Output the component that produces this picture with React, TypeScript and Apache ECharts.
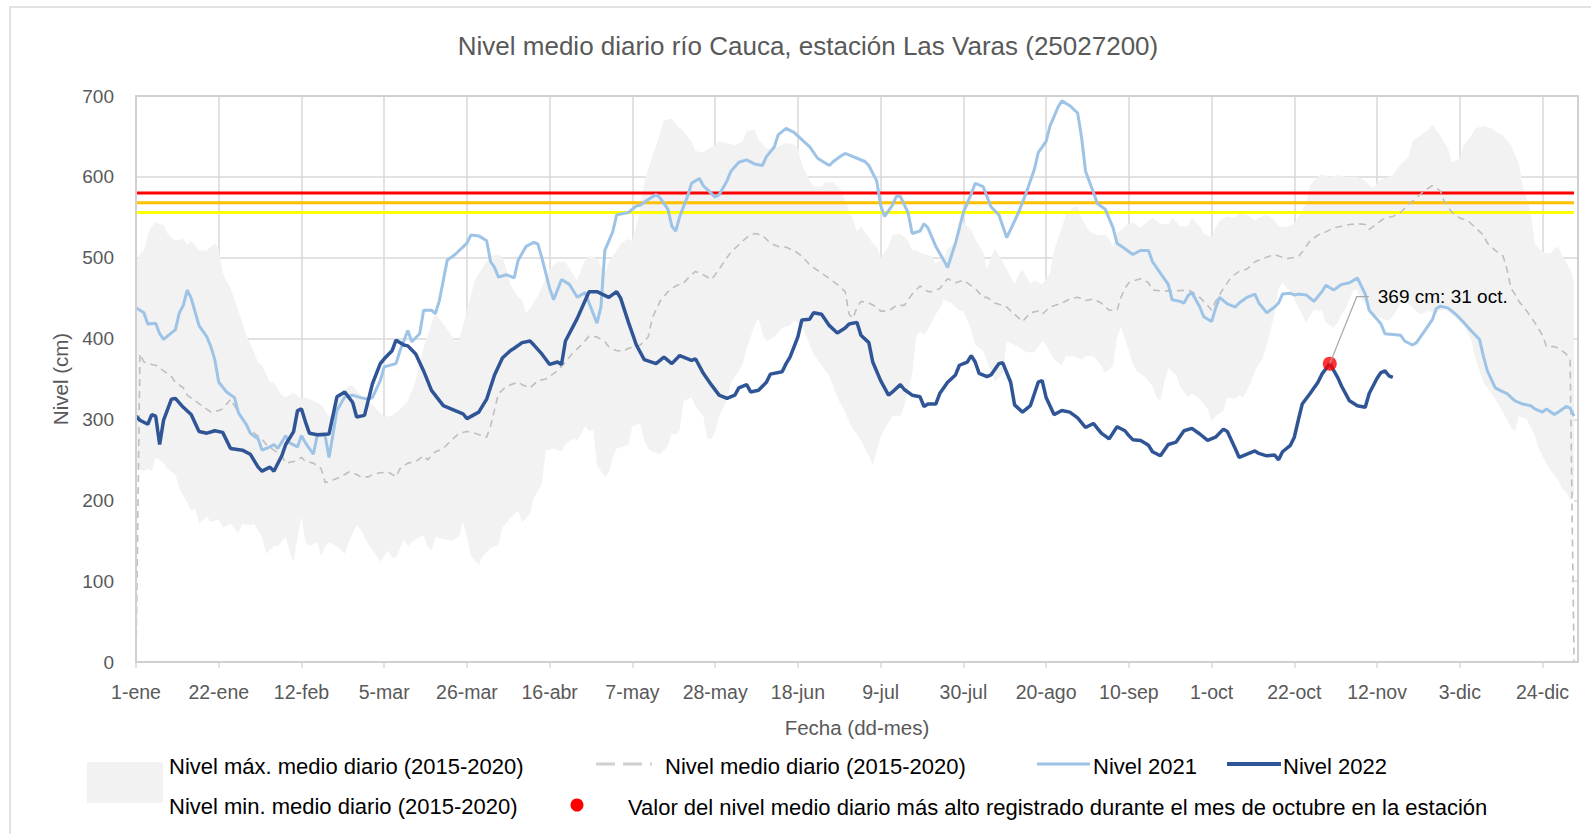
import React, { useEffect, useRef } from "react";
import * as echarts from "echarts";

// ---------- data (x = day of year, 0 = 1-ene) ----------
const xTickLabels = ["1-ene", "22-ene", "12-feb", "5-mar", "26-mar", "16-abr", "7-may", "28-may", "18-jun", "9-jul", "30-jul", "20-ago", "10-sep", "1-oct", "22-oct", "12-nov", "3-dic", "24-dic"];

const maxLevel = [[0,495],[1,505],[2,509],[3,528],[4,539],[5,544],[7,540],[8,530],[9,525],[10,521],[12,523],[13,516],[14,521],[16,509],[18,509],[20,518],[21,511],[22,481],[24,462],[26,434],[28,404],[30,383],[31,370],[32,367],[34,346],[35,346],[37,330],[38,327],[40,333],[42,325],[43,327],[45,323],[47,318],[49,304],[50,304],[52,334],[54,341],[55,342],[57,330],[58,326],[60,318],[62,308],[63,303],[65,305],[67,312],[69,323],[71,348],[73,389],[75,418],[76,431],[78,418],[80,404],[81,397],[82,398],[83,416],[84,434],[85,453],[86,472],[88,488],[89,495],[90,502],[92,504],[93,500],[94,486],[95,467],[97,451],[98,448],[99,432],[100,437],[102,453],[104,474],[105,486],[107,495],[109,495],[110,486],[112,472],[113,486],[114,497],[115,502],[117,499],[119,481],[120,495],[122,509],[123,518],[125,523],[126,521],[128,560],[129,593],[131,625],[133,653],[134,670],[136,672],[137,665],[139,656],[141,644],[142,632],[144,630],[145,634],[147,639],[148,644],[150,642],[152,639],[154,644],[155,656],[157,659],[158,646],[160,635],[162,635],[163,638],[165,642],[167,640],[168,635],[169,616],[171,595],[172,588],[174,588],[175,593],[177,593],[179,583],[180,570],[182,546],[183,532],[184,539],[185,532],[187,518],[188,514],[189,500],[191,514],[192,528],[194,530],[196,521],[197,509],[198,509],[200,504],[202,502],[203,493],[205,500],[206,511],[208,518],[209,535],[210,542],[212,535],[213,523],[215,507],[216,486],[217,500],[218,511],[220,495],[221,486],[223,467],[224,479],[225,486],[227,467],[228,472],[230,467],[232,481],[233,509],[235,537],[236,553],[238,563],[239,563],[240,549],[242,532],[244,528],[246,528],[247,523],[248,514],[249,530],[251,539],[252,542],[253,544],[255,537],[257,546],[258,549],[260,542],[262,541],[263,549],[265,539],[267,539],[268,549],[270,539],[271,530],[273,525],[274,537],[275,546],[277,551],[279,549],[280,556],[282,553],[284,546],[285,549],[287,553],[289,546],[290,539],[292,538],[294,542],[295,551],[297,567],[298,590],[300,600],[301,603],[303,600],[305,602],[307,600],[308,600],[310,600],[312,595],[313,590],[314,586],[316,597],[318,600],[319,602],[321,616],[323,625],[324,644],[326,651],[328,658],[329,665],[331,651],[333,635],[334,618],[336,623],[337,639],[339,651],[340,660],[342,663],[344,660],[345,656],[347,651],[349,639],[351,616],[352,588],[354,556],[355,518],[357,507],[359,505],[360,511],[361,514],[362,502],[364,486],[365,470]];

const minLevel = [[0,240],[2,236],[3,239],[4,236],[5,253],[7,246],[8,239],[10,232],[11,215],[13,197],[14,187],[15,190],[16,171],[18,180],[19,173],[21,176],[22,166],[24,171],[26,159],[27,171],[29,169],[30,171],[32,155],[33,134],[35,143],[36,143],[38,155],[39,136],[40,124],[41,155],[42,180],[43,148],[44,143],[46,148],[47,131],[48,143],[49,148],[51,143],[53,134],[54,148],[56,169],[57,164],[59,145],[61,132],[62,124],[64,138],[65,129],[66,129],[68,152],[69,143],[70,148],[71,152],[73,157],[74,143],[75,138],[76,155],[78,152],[80,150],[82,155],[83,173],[84,155],[85,131],[87,120],[88,131],[89,136],[90,141],[92,145],[93,166],[95,178],[97,187],[98,173],[100,183],[101,204],[102,211],[103,220],[104,262],[106,264],[107,262],[108,260],[109,269],[111,276],[112,274],[114,292],[115,285],[116,288],[117,243],[119,229],[120,234],[121,253],[122,264],[124,267],[125,269],[126,292],[128,295],[129,274],[130,264],[131,260],[133,257],[135,267],[136,283],[137,281],[138,288],[139,323],[141,327],[142,316],[144,304],[145,276],[146,276],[147,285],[148,304],[150,325],[151,346],[153,360],[154,369],[155,388],[157,416],[158,425],[159,406],[160,397],[162,402],[164,413],[166,416],[167,423],[169,416],[171,392],[172,381],[174,367],[176,353],[178,327],[180,309],[181,297],[182,288],[184,274],[186,255],[187,243],[188,262],[189,278],[190,288],[192,304],[194,304],[195,316],[197,355],[198,402],[199,409],[200,404],[202,420],[203,430],[204,437],[205,448],[207,444],[209,434],[210,434],[212,411],[213,392],[215,385],[217,360],[218,346],[220,357],[221,397],[223,392],[224,390],[226,383],[228,383],[230,397],[231,392],[233,374],[235,367],[236,378],[238,378],[240,374],[241,378],[243,378],[245,367],[246,357],[248,367],[249,402],[250,414],[251,400],[253,369],[254,360],[256,353],[258,341],[259,327],[260,323],[261,346],[262,364],[264,355],[265,341],[267,327],[268,332],[270,325],[272,313],[273,297],[274,304],[276,311],[277,327],[279,325],[280,330],[281,327],[283,346],[284,360],[286,376],[287,392],[289,430],[290,462],[291,469],[293,458],[295,439],[296,430],[297,420],[299,436],[301,434],[302,420],[304,413],[305,420],[306,430],[307,437],[309,460],[310,460],[311,448],[313,440],[314,430],[316,425],[318,422],[320,434],[321,444],[322,448],[324,438],[326,430],[328,434],[330,432],[332,436],[334,430],[335,425],[337,417],[339,397],[340,375],[342,346],[344,332],[345,325],[347,309],[349,290],[350,285],[351,304],[353,300],[355,281],[356,265],[358,245],[359,237],[361,225],[362,214],[363,210],[364,200],[365,206]];

const meanLevel = [[0,0],[1,381],[2,371],[4,368],[5,367],[7,360],[9,353],[10,346],[12,339],[13,330],[15,323],[17,316],[19,309],[21,311],[22,313],[24,325],[26,309],[28,292],[30,283],[32,276],[33,269],[35,262],[37,255],[38,246],[40,248],[42,253],[43,248],[45,246],[47,239],[48,222],[50,225],[52,229],[54,235],[56,232],[57,229],[59,229],[60,232],[62,234],[64,235],[66,229],[67,239],[69,246],[71,248],[73,255],[74,250],[76,260],[78,264],[80,274],[82,283],[84,285],[86,283],[89,278],[90,292],[92,332],[94,341],[97,346],[98,343],[100,339],[102,348],[104,350],[107,360],[109,371],[111,383],[113,392],[115,403],[117,402],[119,396],[120,390],[122,385],[124,385],[125,388],[128,392],[130,402],[131,425],[133,446],[135,458],[137,465],[139,469],[141,479],[142,483],[144,479],[146,473],[147,479],[149,493],[151,507],[153,516],[155,525],[157,530],[159,528],[161,518],[163,514],[165,513],[167,509],[169,502],[171,491],[174,481],[176,474],[178,467],[180,458],[181,430],[182,425],[183,439],[184,446],[186,444],[188,439],[189,434],[191,434],[193,441],[195,441],[197,455],[199,465],[201,458],[202,458],[204,462],[206,474],[208,469],[210,472],[213,462],[215,451],[216,451],[218,444],[220,441],[221,439],[223,430],[225,421],[227,432],[229,434],[230,430],[232,439],[235,444],[237,449],[239,451],[241,447],[243,449],[245,444],[247,435],[249,435],[250,451],[251,462],[252,469],[253,471],[255,474],[257,469],[258,460],[260,459],[262,459],[264,459],[267,460],[268,458],[270,451],[272,441],[273,435],[274,446],[276,462],[278,476],[280,483],[282,486],[284,495],[286,499],[289,504],[290,502],[292,499],[295,501],[296,507],[298,521],[300,528],[302,532],[304,537],[306,539],[308,541],[310,542],[312,541],[313,535],[315,542],[316,546],[317,549],[319,551],[321,556],[323,566],[325,574],[327,583],[329,589],[331,583],[332,570],[334,556],[336,549],[338,546],[340,537],[342,528],[343,518],[345,509],[347,502],[348,485],[349,462],[350,455],[351,446],[353,434],[355,420],[357,404],[358,390],[360,390],[361,388],[363,381],[364,373],[365,0]];

const level2021 = [[0,438],[2,432],[3,418],[5,419],[6,406],[7,399],[9,407],[10,411],[11,432],[12,441],[13,460],[14,450],[16,416],[18,402],[19,390],[20,374],[21,346],[23,334],[25,327],[26,308],[28,294],[29,283],[31,276],[32,262],[34,266],[35,269],[36,264],[38,280],[39,271],[41,266],[42,280],[43,271],[45,257],[46,280],[48,280],[49,253],[51,311],[53,328],[55,330],[57,327],[59,325],[60,327],[62,348],[63,365],[66,369],[67,385],[69,410],[70,396],[72,406],[73,435],[75,435],[76,431],[77,447],[78,472],[79,497],[81,504],[84,518],[85,528],[87,527],[89,521],[90,495],[91,488],[92,476],[94,479],[96,475],[97,497],[99,514],[101,519],[102,517],[103,500],[105,462],[106,448],[108,473],[110,467],[112,451],[114,457],[115,444],[117,419],[118,439],[119,509],[121,532],[122,553],[125,556],[127,564],[128,565],[130,572],[132,578],[133,574],[135,560],[136,539],[137,533],[138,551],[140,576],[141,592],[143,598],[144,589],[147,575],[148,578],[150,595],[151,607],[153,618],[155,621],[157,616],[159,614],[160,625],[162,637],[163,652],[165,660],[167,655],[169,646],[171,637],[173,623],[174,620],[176,614],[177,619],[179,626],[180,629],[182,625],[183,623],[185,619],[186,614],[188,595],[189,565],[190,551],[192,565],[193,576],[194,576],[196,555],[197,530],[199,533],[200,542],[201,537],[203,514],[205,497],[206,488],[208,518],[210,556],[212,579],[213,592],[215,588],[217,563],[219,553],[221,525],[222,535],[224,556],[226,581],[228,609],[229,630],[231,644],[232,663],[234,686],[235,694],[237,688],[239,679],[240,649],[241,607],[243,581],[244,567],[246,560],[248,537],[249,518],[251,511],[253,504],[255,509],[257,509],[258,495],[260,481],[262,467],[263,448],[265,446],[266,444],[267,453],[268,457],[270,439],[271,427],[273,421],[274,437],[275,451],[277,443],[279,439],[280,444],[282,451],[284,455],[285,444],[287,432],[289,439],[290,444],[291,455],[293,456],[294,454],[295,455],[297,454],[299,446],[301,458],[302,466],[304,460],[306,467],[308,469],[310,475],[311,465],[312,455],[313,435],[315,424],[316,418],[317,406],[319,405],[321,404],[322,397],[324,392],[325,395],[327,409],[329,423],[330,437],[331,440],[333,438],[335,430],[337,420],[339,409],[341,399],[342,378],[343,360],[345,339],[347,334],[348,332],[350,323],[352,319],[354,317],[355,313],[357,309],[358,313],[360,306],[361,309],[363,316],[364,314],[365,304]];

const level2022 = [[0,304],[1,299],[3,294],[4,306],[5,304],[6,269],[7,299],[9,325],[10,326],[12,315],[14,306],[16,285],[18,283],[20,286],[22,284],[24,264],[27,262],[29,257],[31,241],[32,236],[34,241],[35,236],[37,255],[38,269],[40,285],[41,311],[42,313],[43,297],[44,283],[46,281],[49,282],[51,328],[53,334],[55,321],[56,303],[58,305],[60,344],[62,369],[63,375],[65,385],[66,398],[68,392],[69,391],[71,381],[73,360],[75,336],[78,317],[81,311],[83,307],[84,301],[87,309],[89,325],[91,355],[93,376],[95,385],[96,388],[98,395],[100,397],[101,392],[103,381],[105,368],[107,371],[108,368],[109,397],[112,425],[114,447],[115,458],[117,458],[120,451],[122,458],[123,450],[125,420],[127,392],[129,374],[132,369],[134,377],[136,369],[138,379],[141,373],[142,375],[144,357],[146,343],[148,330],[150,326],[152,330],[153,339],[155,343],[156,334],[158,336],[160,346],[161,356],[164,359],[165,369],[166,377],[168,402],[169,423],[171,424],[172,432],[174,430],[176,416],[178,407],[180,413],[181,418],[183,420],[184,404],[186,395],[187,371],[189,348],[191,330],[192,334],[194,343],[195,337],[197,330],[199,328],[200,316],[201,319],[203,319],[204,332],[206,346],[208,355],[209,367],[211,371],[212,379],[213,371],[214,357],[216,353],[217,355],[219,369],[220,370],[222,346],[223,318],[225,309],[227,317],[229,346],[230,348],[231,327],[233,306],[235,311],[237,309],[239,302],[241,290],[243,295],[245,283],[247,276],[249,291],[251,286],[252,280],[253,275],[255,274],[257,268],[258,260],[260,255],[262,269],[264,272],[266,286],[268,289],[270,282],[272,274],[274,278],[276,288],[277,285],[279,264],[280,253],[282,257],[284,261],[285,258],[287,255],[289,256],[290,250],[291,260],[293,268],[294,278],[295,299],[296,319],[298,332],[300,346],[301,356],[303,369],[305,352],[306,341],[308,323],[310,317],[312,315],[313,332],[315,351],[316,358],[317,360],[318,354],[319,352]];

const thresholds = [580, 568, 556];
const thresholdColors = ["#FF0000", "#FFC000", "#FFFF00"];
const thresholdSpan = [0, 365];

const peakDay = 303;
const peakValue = 369;
const peakLabel = "369 cm: 31 oct.";

const FONT = "'Liberation Sans', Arial, sans-serif";

export default function App() {
  const ref = useRef<HTMLDivElement>(null);

  useEffect(() => {
    const chart = echarts.init(ref.current as HTMLDivElement, undefined, { renderer: "svg" });

    const thresholdSeries = thresholds.map((v, i) => ({
      type: "line",
      name: "umbral" + v,
      data: thresholdSpan.map((d) => [d, v]),
      showSymbol: false,
      silent: true,
      lineStyle: { color: thresholdColors[i], width: 3 },
      z: 3,
    }));

    const option: any = {
      animation: false,
      backgroundColor: "#ffffff",
      title: {
        text: "Nivel medio diario río Cauca, estación Las Varas (25027200)",
        left: 808,
        textAlign: "center",
        top: 33,
        padding: 0,
        textStyle: { fontFamily: FONT, fontSize: 26, fontWeight: "normal", color: "#595959" },
      },
      grid: { left: 136, right: 13, top: 96, bottom: 172, containLabel: false },
      xAxis: {
        type: "value",
        min: 0,
        max: 366,
        interval: 21,
        name: "Fecha (dd-mes)",
        nameLocation: "middle",
        nameGap: 55,
        nameTextStyle: { fontFamily: FONT, fontSize: 20.5, color: "#595959" },
        axisLine: { show: false },
        axisTick: { show: true, length: 6, lineStyle: { color: "#D9D9D9", width: 1.5 } },
        axisLabel: {
          margin: 20,
          fontFamily: FONT,
          fontSize: 19.5,
          color: "#595959",
          showMaxLabel: false,
          hideOverlap: false,
          formatter: (v: number) => (v % 21 === 0 && xTickLabels[v / 21] !== undefined ? xTickLabels[v / 21] : ""),
        },
        splitLine: { show: true, lineStyle: { color: "#D9D9D9", width: 1.5 } },
      },
      yAxis: {
        type: "value",
        min: 0,
        max: 700,
        interval: 100,
        name: "Nivel (cm)",
        nameLocation: "middle",
        nameGap: 64,
        nameTextStyle: { fontFamily: FONT, fontSize: 20.5, color: "#595959" },
        axisLine: { show: false },
        axisTick: { show: false },
        axisLabel: { margin: 22, fontFamily: FONT, fontSize: 19, color: "#595959" },
        splitLine: { show: true, lineStyle: { color: "#D9D9D9", width: 1.5 } },
      },
      series: [
        {
          type: "line",
          name: "Nivel máx. medio diario (2015-2020)",
          data: maxLevel,
          showSymbol: false,
          silent: true,
          lineStyle: { width: 0, color: "#F2F2F2" },
          areaStyle: { color: "#F2F2F2", opacity: 1, origin: "start" },
          z: 1,
        },
        {
          type: "line",
          name: "Nivel min. medio diario (2015-2020)",
          data: minLevel,
          showSymbol: false,
          silent: true,
          lineStyle: { width: 0, color: "#FFFFFF" },
          areaStyle: { color: "#FFFFFF", opacity: 1, origin: "start" },
          z: 2,
        },
        ...thresholdSeries,
        {
          type: "line",
          name: "Nivel medio diario (2015-2020)",
          data: meanLevel,
          showSymbol: false,
          silent: true,
          lineStyle: { color: "#BFBFBF", width: 1.6, type: [7, 5] },
          z: 4,
        },
        {
          type: "line",
          name: "Nivel 2021",
          data: level2021,
          showSymbol: false,
          silent: true,
          lineStyle: { color: "#9DC3E6", width: 3 },
          z: 5,
        },
        {
          type: "line",
          name: "Nivel 2022",
          data: level2022,
          showSymbol: false,
          silent: true,
          lineStyle: { color: "#2F5597", width: 3.5 },
          z: 6,
        },
        {
          type: "scatter",
          name: "Valor máximo octubre",
          data: [[peakDay, peakValue]],
          symbol: "circle",
          symbolSize: 14,
          silent: true,
          itemStyle: { color: "#FF0000" },
          z: 8,
        },
      ],
    };

    chart.setOption(option);

    const p = chart.convertToPixel({ gridIndex: 0 }, [peakDay, peakValue]) as number[];
    const px = p[0];
    const py = p[1];

    const legendText = (id: string, text: string, x: number, y: number) => ({
      type: "text",
      id,
      x,
      y,
      style: { text, fill: "#000000", font: `22px ${FONT}`, textVerticalAlign: "middle", textAlign: "left" },
      z: 50,
    });

    const graphic: any[] = [
      {
        type: "rect",
        id: "outerFrame",
        shape: { x: 10, y: 7, width: 1620, height: 900 },
        style: { fill: "none", stroke: "#D9D9D9", lineWidth: 1.5 },
        silent: true,
        z: 50,
      },
      {
        type: "rect",
        id: "plotFrame",
        shape: { x: 136, y: 96, width: 1442, height: 566 },
        style: { fill: "none", stroke: "#D0D0D0", lineWidth: 2 },
        silent: true,
        z: 40,
      },
      {
        type: "rect",
        id: "lgBand",
        shape: { x: 87, y: 762, width: 76, height: 41 },
        style: { fill: "#F2F2F2" },
        z: 50,
      },
      legendText("lgMax", "Nivel máx. medio diario (2015-2020)", 169, 766),
      legendText("lgMin", "Nivel min. medio diario (2015-2020)", 169, 806),
      {
        type: "line",
        id: "lgMean",
        shape: { x1: 596, y1: 764, x2: 652, y2: 764 },
        style: { stroke: "#D0D0D0", lineWidth: 3, lineDash: [19, 8] },
        z: 50,
      },
      legendText("lgMeanT", "Nivel medio diario (2015-2020)", 665, 766),
      {
        type: "line",
        id: "lg2021",
        shape: { x1: 1037, y1: 764, x2: 1090, y2: 764 },
        style: { stroke: "#9DC3E6", lineWidth: 3 },
        z: 50,
      },
      legendText("lg2021T", "Nivel 2021", 1093, 766),
      {
        type: "line",
        id: "lg2022",
        shape: { x1: 1227, y1: 764, x2: 1281, y2: 764 },
        style: { stroke: "#2F5597", lineWidth: 4 },
        z: 50,
      },
      legendText("lg2022T", "Nivel 2022", 1283, 766),
      {
        type: "circle",
        id: "lgPeak",
        shape: { cx: 577, cy: 805, r: 6.5 },
        style: { fill: "#FF0000" },
        z: 50,
      },
      legendText("lgPeakT", "Valor del nivel medio diario más alto registrado durante el mes de octubre en la estación", 628, 807),
      {
        type: "polyline",
        id: "leader",
        shape: { points: [[px, py], [px + 27, py - 67], [px + 39, py - 67]] },
        style: { stroke: "#A6A6A6", lineWidth: 1.25, fill: "none" },
        z: 45,
      },
      {
        type: "text",
        id: "leaderText",
        x: px + 48,
        y: py - 67,
        style: { text: peakLabel, fill: "#000000", font: `19px ${FONT}`, textVerticalAlign: "middle", textAlign: "left" },
        z: 45,
      },
    ];

    chart.setOption({ graphic });

    return () => {
      chart.dispose();
    };
  }, []);

  return (
    <div
      ref={ref}
      style={{ position: "absolute", left: 0, top: 0, width: 1591, height: 834, background: "#ffffff" }}
    />
  );
}
